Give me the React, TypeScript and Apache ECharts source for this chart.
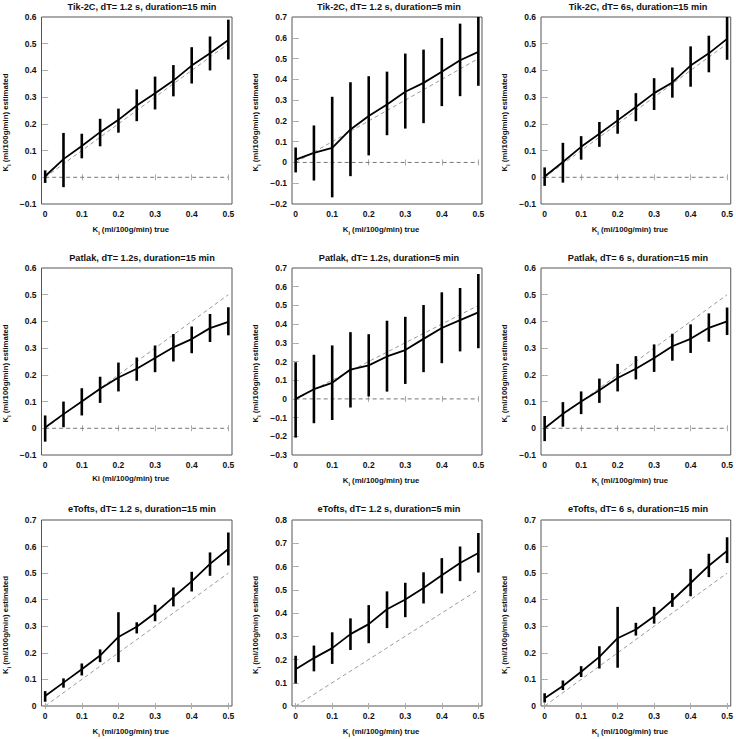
import React, { useEffect, useRef } from "react";
import * as echarts from "echarts";

const KI = [0, 0.05, 0.1, 0.15, 0.2, 0.25, 0.3, 0.35, 0.4, 0.45, 0.5];
const X_TICKS = [0, 0.1, 0.2, 0.3, 0.4, 0.5];

const TITLES = [
  "Tik-2C, dT= 1.2 s, duration=15 min",
  "Tik-2C, dT= 1.2 s, duration=5 min",
  "Tik-2C, dT= 6s, duration=15 min",
  "Patlak, dT= 1.2s, duration=15 min",
  "Patlak, dT= 1.2s, duration=5 min",
  "Patlak, dT= 6 s, duration=15 min",
  "eTofts, dT= 1.2 s, duration=15 min",
  "eTofts, dT= 1.2 s, duration=5 min",
  "eTofts, dT= 6 s, duration=15 min",
];
const X_NAMES = [
  "K{sub|i} (ml/100g/min) true",
  "K{sub|i} (ml/100g/min) true",
  "K{sub|i} (ml/100g/min) true",
  "Ki (ml/100g/min) true",
  "K{sub|i} (ml/100g/min) true",
  "K{sub|i} (ml/100g/min) true",
  "K{sub|i} (ml/100g/min) true",
  "K{sub|i} (ml/100g/min) true",
  "K{sub|i} (ml/100g/min) true",
];
const Y_NAME = "K{sub|i} (ml/100g/min) estimated";
const Y_MIN = [-0.1, -0.2, -0.1, -0.1, -0.3, -0.1, 0, 0, 0];
const Y_MAX = [0.6, 0.7, 0.6, 0.6, 0.7, 0.6, 0.7, 0.8, 0.7];

// Tik-2C
const tik12s15Mean = [0.004, 0.068, 0.117, 0.169, 0.215, 0.269, 0.315, 0.362, 0.418, 0.464, 0.514];
const tik12s15Lo = [-0.021, -0.037, 0.071, 0.116, 0.167, 0.21, 0.254, 0.303, 0.351, 0.4, 0.441];
const tik12s15Hi = [0.026, 0.166, 0.163, 0.219, 0.257, 0.329, 0.377, 0.42, 0.487, 0.527, 0.59];

const tik12s5Mean = [0.014, 0.046, 0.07, 0.159, 0.224, 0.279, 0.34, 0.383, 0.436, 0.492, 0.532];
const tik12s5Lo = [-0.048, -0.087, -0.168, -0.066, 0.034, 0.131, 0.163, 0.189, 0.271, 0.319, 0.369];
const tik12s5Hi = [0.072, 0.178, 0.316, 0.386, 0.415, 0.437, 0.524, 0.543, 0.599, 0.668, 0.7];

const tik6s15Mean = [0.003, 0.057, 0.114, 0.163, 0.213, 0.263, 0.315, 0.355, 0.418, 0.464, 0.518];
const tik6s15Lo = [-0.032, -0.02, 0.066, 0.114, 0.163, 0.21, 0.252, 0.298, 0.339, 0.393, 0.44];
const tik6s15Hi = [0.037, 0.129, 0.154, 0.207, 0.252, 0.315, 0.371, 0.411, 0.49, 0.53, 0.6];

// Patlak
const pat12s15Mean = [0.003, 0.053, 0.1, 0.148, 0.19, 0.223, 0.263, 0.303, 0.334, 0.375, 0.398];
const pat12s15Lo = [-0.05, 0.004, 0.048, 0.095, 0.138, 0.178, 0.21, 0.25, 0.281, 0.323, 0.348];
const pat12s15Hi = [0.048, 0.1, 0.15, 0.193, 0.246, 0.265, 0.31, 0.353, 0.381, 0.428, 0.453];

const pat12s5Mean = [0, 0.052, 0.086, 0.157, 0.179, 0.227, 0.261, 0.321, 0.379, 0.421, 0.463];
const pat12s5Lo = [-0.207, -0.13, -0.113, -0.046, 0.013, 0.039, 0.08, 0.143, 0.191, 0.254, 0.271];
const pat12s5Hi = [0.196, 0.236, 0.286, 0.357, 0.346, 0.418, 0.439, 0.502, 0.57, 0.593, 0.668];

const pat6s15Mean = [0, 0.054, 0.1, 0.142, 0.188, 0.223, 0.263, 0.307, 0.335, 0.376, 0.4];
const pat6s15Lo = [-0.048, 0.006, 0.053, 0.095, 0.138, 0.183, 0.211, 0.253, 0.282, 0.324, 0.349];
const pat6s15Hi = [0.046, 0.098, 0.138, 0.186, 0.241, 0.27, 0.314, 0.354, 0.389, 0.43, 0.452];

// eTofts
const eto12s15Mean = [0.038, 0.088, 0.138, 0.19, 0.26, 0.298, 0.35, 0.41, 0.469, 0.535, 0.591];
const eto12s15Lo = [0.016, 0.069, 0.115, 0.165, 0.165, 0.273, 0.319, 0.375, 0.431, 0.49, 0.529];
const eto12s15Hi = [0.056, 0.104, 0.16, 0.213, 0.353, 0.315, 0.381, 0.446, 0.505, 0.578, 0.653];

const eto12s5Mean = [0.158, 0.206, 0.249, 0.309, 0.352, 0.416, 0.458, 0.508, 0.562, 0.615, 0.658];
const eto12s5Lo = [0.097, 0.149, 0.181, 0.241, 0.27, 0.335, 0.382, 0.441, 0.484, 0.537, 0.574];
const eto12s5Hi = [0.216, 0.26, 0.317, 0.377, 0.434, 0.493, 0.53, 0.575, 0.636, 0.686, 0.744];

const eto6s15Mean = [0.029, 0.075, 0.129, 0.185, 0.255, 0.288, 0.338, 0.398, 0.463, 0.528, 0.584];
const eto6s15Lo = [0.013, 0.06, 0.109, 0.141, 0.144, 0.265, 0.31, 0.373, 0.413, 0.485, 0.538];
const eto6s15Hi = [0.048, 0.096, 0.15, 0.225, 0.373, 0.313, 0.373, 0.425, 0.516, 0.573, 0.635];

const MEANS = [tik12s15Mean, tik12s5Mean, tik6s15Mean, pat12s15Mean, pat12s5Mean, pat6s15Mean, eto12s15Mean, eto12s5Mean, eto6s15Mean];
const LOS = [tik12s15Lo, tik12s5Lo, tik6s15Lo, pat12s15Lo, pat12s5Lo, pat6s15Lo, eto12s15Lo, eto12s5Lo, eto6s15Lo];
const HIS = [tik12s15Hi, tik12s5Hi, tik6s15Hi, pat12s15Hi, pat12s5Hi, pat6s15Hi, eto12s15Hi, eto12s5Hi, eto6s15Hi];

// layout
const COL_LEFT = [41, 292, 541];
const COL_W = [191, 190, 191];
const ROW_TOP = [17, 268, 520];
const ROW_H = [187, 187, 187];
const TITLE_TOP = [2, 253, 504];
const TITLE_X = [142, 389, 638];

const FONT = "'Liberation Sans', Arial, Helvetica, sans-serif";

const fmt = (v: number) => String(Math.round(v * 10) / 10).replace("-", "\u2212");

const richSub = {
  sub: { fontSize: 5.5, fontWeight: "bold", fontFamily: FONT, color: "#000", lineHeight: 13, verticalAlign: "bottom" },
};

function buildOption() {
  const grid: any[] = [];
  const xAxis: any[] = [];
  const yAxis: any[] = [];
  const series: any[] = [];
  const title: any[] = [];
  const n = 9;
  const tickStyle = { show: true, inside: true, length: 3, lineStyle: { color: "#aaa", width: 1 } };

  for (let i = 0; i < n; i++) {
    const r = Math.floor(i / 3);
    const c = i % 3;
    grid.push({
      left: COL_LEFT[c],
      top: ROW_TOP[r],
      width: COL_W[c],
      height: ROW_H[r],
      show: true,
      borderColor: "#555",
      borderWidth: 1,
      containLabel: false,
    });
    title.push({
      text: TITLES[i],
      left: TITLE_X[c],
      top: TITLE_TOP[r],
      textAlign: "center",
      padding: 0,
      textStyle: { fontSize: 9.2, fontWeight: "bold", fontFamily: FONT, color: "#111" },
    });
  }
  // primary axes
  for (let i = 0; i < n; i++) {
    xAxis.push({
      type: "value",
      gridIndex: i,
      min: -0.01,
      max: 0.51,
      position: "bottom",
      axisLine: { show: false },
      splitLine: { show: false },
      axisTick: { ...tickStyle, customValues: X_TICKS },
      axisLabel: {
        customValues: X_TICKS,
        formatter: fmt,
        fontSize: 8.5,
        fontWeight: "bold",
        fontFamily: FONT,
        color: "#111",
        margin: 5,
      },
      name: X_NAMES[i],
      nameLocation: "middle",
      nameGap: 19,
      nameTextStyle: {
        fontSize: 7.8,
        fontWeight: "bold",
        fontFamily: FONT,
        color: "#111",
        padding: [0, 12, 0, 0],
        rich: richSub,
      },
    });
  }
  for (let i = 0; i < n; i++) {
    xAxis.push({
      type: "value",
      gridIndex: i,
      min: -0.01,
      max: 0.51,
      position: "top",
      axisLine: { show: false },
      splitLine: { show: false },
      axisTick: { ...tickStyle, customValues: X_TICKS },
      axisLabel: { show: false, customValues: X_TICKS },
    });
  }
  for (let i = 0; i < n; i++) {
    yAxis.push({
      type: "value",
      gridIndex: i,
      min: Y_MIN[i],
      max: Y_MAX[i],
      interval: 0.1,
      position: "left",
      axisLine: { show: false },
      splitLine: { show: false },
      axisTick: tickStyle,
      axisLabel: {
        formatter: fmt,
        fontSize: 8.5,
        fontWeight: "bold",
        fontFamily: FONT,
        color: "#111",
        margin: 5,
      },
      name: Y_NAME,
      nameLocation: "middle",
      nameRotate: 90,
      nameGap: 30,
      nameTextStyle: {
        fontSize: 7.8,
        fontWeight: "bold",
        fontFamily: FONT,
        color: "#111",
        padding: [0, 24, 0, 0],
        rich: richSub,
      },
    });
  }
  for (let i = 0; i < n; i++) {
    yAxis.push({
      type: "value",
      gridIndex: i,
      min: Y_MIN[i],
      max: Y_MAX[i],
      interval: 0.1,
      position: "right",
      axisLine: { show: false },
      splitLine: { show: false },
      axisTick: tickStyle,
      axisLabel: { show: false },
    });
  }

  for (let i = 0; i < n; i++) {
    // identity dashed
    series.push({
      type: "line",
      xAxisIndex: i,
      yAxisIndex: i,
      data: [
        [0, 0],
        [0.5, 0.5],
      ],
      symbol: "none",
      silent: true,
      z: 1,
      lineStyle: { color: "#9a9a9a", width: 1, type: [4, 3] },
    });
    if (Y_MIN[i] < 0) {
      series.push({
        type: "line",
        xAxisIndex: i,
        yAxisIndex: i,
        data: [
          [0, 0],
          [0.5, 0],
        ],
        symbol: "none",
        silent: true,
        z: 1,
        lineStyle: { color: "#777", width: 1, type: [4, 3] },
      });
    }
    series.push({
      type: "line",
      xAxisIndex: i,
      yAxisIndex: i,
      data: KI.map((x, j) => [x, MEANS[i][j]]),
      symbol: "none",
      z: 3,
      lineStyle: { color: "#000", width: 1.8 },
    });
    series.push({
      type: "custom",
      xAxisIndex: i,
      yAxisIndex: i,
      z: 4,
      data: KI.map((x, j) => [x, LOS[i][j], HIS[i][j]]),
      encode: { x: 0, y: [1, 2] },
      renderItem: (params: any, api: any) => {
        const x = api.value(0);
        const p1 = api.coord([x, api.value(1)]);
        const p2 = api.coord([x, api.value(2)]);
        return {
          type: "line",
          shape: { x1: p1[0], y1: p1[1], x2: p2[0], y2: p2[1] },
          style: { stroke: "#000", lineWidth: 2.6 },
        };
      },
    });
  }

  return {
    animation: false,
    backgroundColor: "#fff",
    title,
    grid,
    xAxis,
    yAxis,
    series,
  };
}

export default function App() {
  const ref = useRef<HTMLDivElement>(null);
  useEffect(() => {
    if (!ref.current) return;
    const chart = echarts.init(ref.current, null, { renderer: "svg" });
    chart.setOption(buildOption() as any);
    return () => chart.dispose();
  }, []);
  return (
    <div
      ref={ref}
      style={{ position: "absolute", left: 0, top: 0, width: 736, height: 739, background: "#fff" }}
    />
  );
}
